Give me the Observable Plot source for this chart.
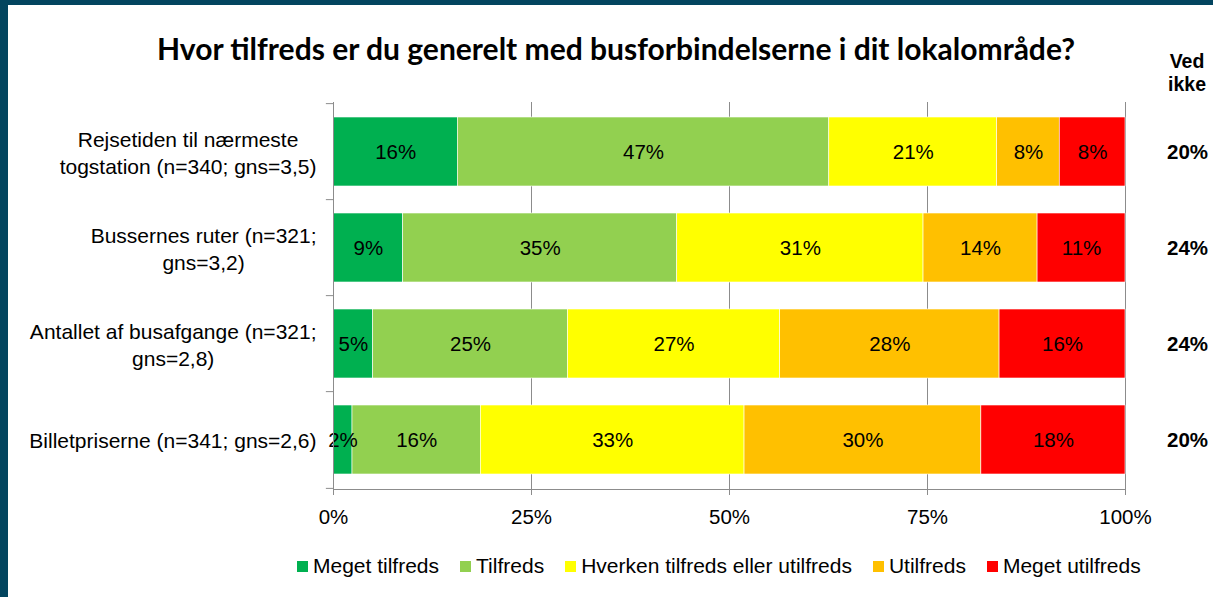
<!DOCTYPE html>
<html>
<head>
<meta charset="utf-8">
<script src="https://cdn.jsdelivr.net/npm/d3@7"></script>
<script src="https://cdn.jsdelivr.net/npm/@observablehq/plot@0.6"></script>
<style>
  html, body { margin: 0; padding: 0; background: #fff; }
  #page { position: relative; width: 1213px; height: 597px; overflow: hidden; background: #fff;
          font-family: "Liberation Sans", Arial, sans-serif; color: #000; }
  #borderLeft { position: absolute; left: 0; top: 0; width: 8px; height: 597px; background: #03455f; }
  #borderTop { position: absolute; left: 0; top: 0; width: 1213px; height: 5px; background: #03455f; }
  #title { position: absolute; top: 30px; left: 616px; transform: translateX(-50%); white-space: nowrap;
           font-family: Lato, "Open Sans", sans-serif; font-weight: 700; font-size: 24px; }
  #vedikke { position: absolute; top: 50px; left: 1187px; transform: translateX(-50%); text-align: center;
             font-weight: 700; font-size: 19.5px; line-height: 23px; }
  #chart { position: absolute; left: 0; top: 71px; }
  #legend { position: absolute; top: 554px; left: 297px; display: flex; align-items: center; font-size: 21px; white-space: nowrap; }
  #legend .item { display: flex; align-items: center; margin-right: 21px; }
  #legend .sw { width: 11px; height: 11px; margin-right: 5px; }
</style>
</head>
<body>
<div id="page">
  <div id="borderLeft"></div>
  <div id="borderTop"></div>
  <div id="title">Hvor tilfreds er du generelt med busforbindelserne i dit lokalområde?</div>
  <div id="vedikke">Ved<br>ikke</div>
  <div id="chart"></div>
  <div id="legend"></div>
</div>
<script>
// ---- data ----
const questions = [
  "Rejsetiden til nærmeste\ntogstation (n=340; gns=3,5)",
  "Bussernes ruter (n=321;\ngns=3,2)",
  "Antallet af busafgange (n=321;\ngns=2,8)",
  "Billetpriserne (n=341; gns=2,6)"
];
const responses = ["Meget tilfreds", "Tilfreds", "Hverken tilfreds eller utilfreds", "Utilfreds", "Meget utilfreds"];
const colors = ["#00B050", "#92D050", "#FFFF00", "#FFC000", "#FF0000"];
const megetTilfreds   = [15.7, 8.8, 5.0, 2.4];
const tilfreds        = [46.9, 34.6, 24.6, 16.2];
const hverken         = [21.2, 31.1, 26.8, 33.3];
const utilfreds       = [7.9, 14.4, 27.7, 29.9];
const megetUtilfreds  = [8.3, 11.1, 15.9, 18.2];
const vedIkke = ["20%", "24%", "24%", "20%"];
const xTicks = [0, 25, 50, 75, 100];

const series = [megetTilfreds, tilfreds, hverken, utilfreds, megetUtilfreds];
const data = [];
questions.forEach((q, i) => {
  responses.forEach((r, j) => data.push({q, resp: r, value: series[j][i]}));
});

// measure label widths for centered multi-line labels right-aligned as a block
const ctx = document.createElement("canvas").getContext("2d");
ctx.font = "21px 'Liberation Sans'";
const blockW = q => Math.max(...q.split("\n").map(s => ctx.measureText(s).width));

const gridColor = "#8c8c8c";
const step = 387 / 4;

const labelMarks = questions.map(q =>
  Plot.text([q], {y: d => d, text: d => d, frameAnchor: "left", textAnchor: "middle",
    dx: -17 - blockW(q) / 2, fontSize: 21, lineHeight: 1.25, fill: "#000"})
);

const chart = Plot.plot({
  width: 1213,
  height: 470,
  marginTop: 31,
  marginBottom: 52,
  marginLeft: 333,
  marginRight: 88,
  style: {fontFamily: "'Liberation Sans', Arial, sans-serif", color: "#000", background: "transparent"},
  x: {domain: [0, 100], axis: null},
  y: {domain: questions, paddingInner: 0.28, paddingOuter: 0.14, axis: null},
  color: {domain: responses, range: colors},
  marks: [
    Plot.ruleX(xTicks.filter(d => d > 0), {stroke: gridColor, strokeWidth: 1}),
    Plot.barX(data, Plot.stackX({x: "value", y: "q", fill: "resp", stroke: "white", strokeWidth: 0.6})),
    Plot.text(data, Plot.stackX({x: "value", y: "q", z: "resp", text: d => Math.round(d.value) + "%", fontSize: 20.5, fill: "#000"})),
    Plot.ruleX([0], {stroke: gridColor, strokeWidth: 1}),
    Plot.frame({anchor: "bottom", stroke: gridColor, strokeWidth: 1}),
    Plot.ruleY(questions, {y: d => d, x1: -0.9, x2: 0, dy: -step / 2, stroke: gridColor}),
    Plot.ruleY([questions[questions.length - 1]], {y: d => d, x1: -0.9, x2: 0, dy: step / 2, stroke: gridColor}),
    Plot.axisX({ticks: xTicks, tickFormat: d => d + "%", tickSize: 6, tickPadding: 14, fontSize: 20.5, stroke: gridColor, fill: "#000", label: null}),
    ...labelMarks,
    Plot.text(questions, {y: d => d, text: (d, i) => vedIkke[i], frameAnchor: "right", textAnchor: "middle", dx: 62, fontSize: 20.5, fontWeight: "bold", fill: "#000"})
  ]
});
document.getElementById("chart").appendChild(chart);

// legend
const legend = document.getElementById("legend");
responses.forEach((r, i) => {
  const item = document.createElement("div");
  item.className = "item";
  const sw = document.createElement("div");
  sw.className = "sw";
  sw.style.background = colors[i];
  const t = document.createElement("span");
  t.textContent = r;
  item.appendChild(sw); item.appendChild(t);
  legend.appendChild(item);
});

// fit title width to reference (~918px)
const title = document.getElementById("title");
const w = title.getBoundingClientRect().width;
title.style.fontSize = (24 * 918 / w).toFixed(2) + "px";
</script>
</body>
</html>
